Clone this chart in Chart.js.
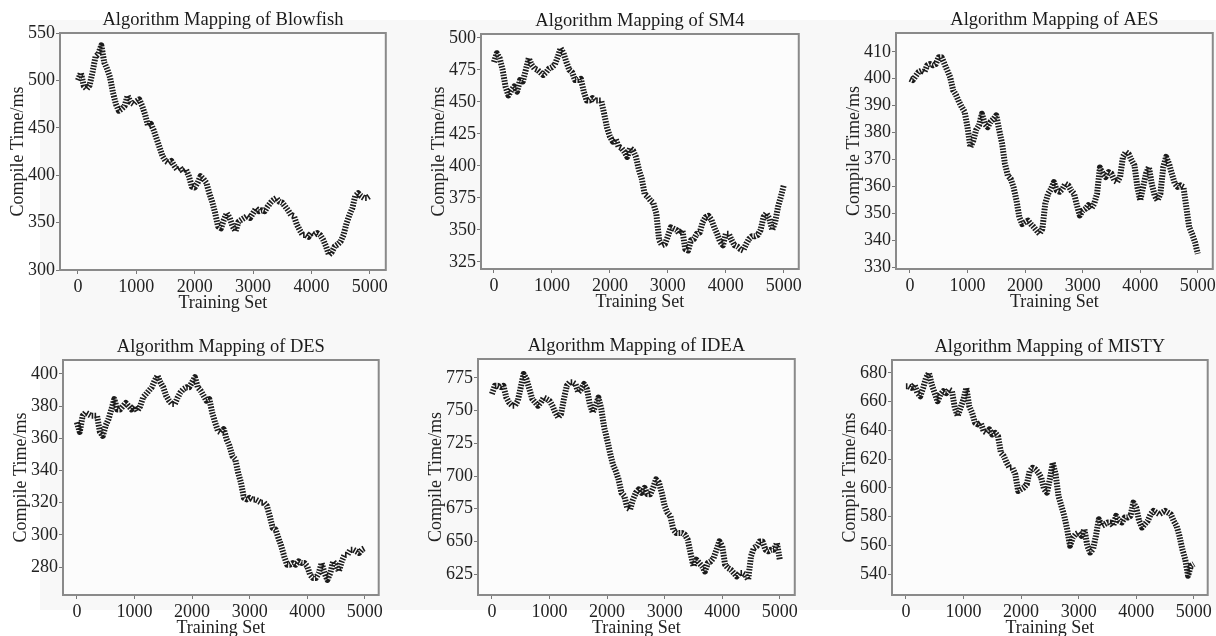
<!DOCTYPE html>
<html>
<head>
<meta charset="utf-8">
<script src="https://cdn.jsdelivr.net/npm/chart.js@4.4.0/dist/chart.umd.min.js"></script>
<style>
  body { margin: 0; background: #fff; width: 1216px; height: 636px; position: relative; overflow: hidden; }
  #bg { position: absolute; left: 40px; top: 20px; width: 1176px; height: 590px; background: #f8f8f8; }
  canvas { position: absolute; }
</style>
</head>
<body>
<div id="bg"></div>
<script>
// training set sizes (x) shared by all six panels
const trainingSet = [0,50,100,150,200,250,300,350,400,450,500,550,600,650,700,750,800,850,900,950,
  1000,1050,1100,1150,1200,1250,1300,1350,1400,1450,1500,1550,1600,1650,1700,1750,1800,1850,1900,1950,
  2000,2050,2100,2150,2200,2250,2300,2350,2400,2450,2500,2550,2600,2650,2700,2750,2800,2850,2900,2950,
  3000,3050,3100,3150,3200,3250,3300,3350,3400,3450,3500,3550,3600,3650,3700,3750,3800,3850,3900,3950,
  4000,4050,4100,4150,4200,4250,4300,4350,4400,4450,4500,4550,4600,4650,4700,4750,4800,4850,4900,4950,5000];

// compile time (ms)
const blowfish = [500,508,494,491,495,509,525,528,537,519, 512,503,487,475,468,470,473,484,477,475,
  478,480,473,464,452,454,447,438,429,420, 415,413,415,410,406,408,404,406,399,388,
  387,392,399,396,392,381,372,360,346,344, 353,360,355,346,341,351,353,355,357,355,
  360,365,362,363,362,367,371,374,376,372, 371,367,363,358,357,348,342,337,337,335,
  339,337,339,337,332,325,316,319,325,327, 330,337,349,358,365,378,381,378,376,376, 378];

const sm4 = [481,488,484,475,462,455,459,462,458,467, 466,475,484,479,476,475,473,471,473,476,
  477,479,485,492,488,481,475,473,467,467, 468,458,451,451,453,451,451,451,441,430,
  423,419,421,415,414,411,407,414,412,407, 397,390,378,376,373,371,363,342,338,339,
  345,352,351,350,347,350,335,334,342,343, 347,348,356,360,361,358,352,347,341,338,
  347,347,342,338,337,335,334,339,343,345, 345,346,350,360,363,359,350,356,368,376, 385];

const aes = [400,399.5,401,402.5,403,402.5,405,405.5,405,405.5, 408,408,405.5,403,400.5,395.7,394,391.5,389.5,387.7,
  382,374.6,377,381,382.7,387,383.3,382,384,385, 386.4,381,376,368.4,364,362.8,359.7,354.8,348.6,346,
  346.7,347.3,346,344.9,343.6,342.4,344.2,353.5,357.3,359, 361.6,358.5,358,359,361,360.4,358.5,357.3,353,349.2,
  351,351.7,353,351.7,353.5,357.3,367,364.7,363.5,365.3, 364.7,362.2,361.6,363.5,371,372.8,372,369.7,367.8,359.8,
  354.8,359.8,364.7,367.2,361,356.6,354.8,357.3,367.2,371, 368.4,364.7,361,359.8,360.4,359.8,352.3,344.9,342.4,339.3, 335];

const des = [370,364,374,376,375,374,374,374,364,361.5, 368,372,378,384.4,378,378,380,382,380,378,
  380,377,380,385.4,387.5,389.6,391.7,395.8,399,394.8, 391.7,386.5,383.4,381.3,381.3,385.4,388.6,390.6,391.7,391.7,
  394.8,398,391.7,389.6,386.5,383.4,384.4,376,369.8,364.6, 363.6,365.7,359.4,355.3,349,347,338.6,332.4,323,322,
  323,322,322,321,320,320,318,311.6,304.3,303.3, 298,292.9,286.6,281.4,281.4,282.5,281.4,283.5,282.5,282.5,
  280.4,275.2,273.1,273.1,276.2,282.5,276.2,272,276.2,283.5, 281.4,277.3,283.5,287.7,287.7,290.8,290.8,289.8,288.7,290.8, 291.8];

const idea = [762.7,769,769,768,769,760,756,753.8,753.8,757.6, 767.8,778,774.2,766.6,758.9,756.3,753.8,756.3,760,758.9,
  757.6,753.8,748.6,744.8,747.4,758.9,769,771.7,771.7,770.4, 764,766.6,770.4,766.6,755,748.6,753.8,760,751.2,737,
  728,718,709,703.8,697.4,687.2,684.6,675.7,674.4,682, 687.2,689.8,687.2,691,686,686,691,697.4,695,687.2,
  677,671.9,669.3,659,656.5,656.5,656.5,655.2,651.4,641.1, 631,636,633.5,631,627,633.5,634.7,637.3,643.7,650,
  646.3,632.2,629.6,628.3,625.8,623.2,625.8,625.8,624.5,620.7, 638.6,645,646.3,650,650,643.7,642.4,643.7,643.7,648.8, 636];

const misty = [670.7,670.7,669.6,671.9,666,663.8,669.6,676.5,680,671.9, 666,660.3,665,667.3,666,668.4,667.3,655.7,650,655.7,
  661.5,669.6,656.9,652.2,645.3,644.1,645.3,639.5,638.3,640.7, 637.2,638.3,636,624.5,622.1,617.5,614,614,609.4,597.8,
  599,600.2,602.5,611.7,614,612.9,610.6,607.1,599,596.7, 606,617.5,609.4,594.4,587.4,580.5,571.2,559.7,565.4,567.8,
  568.9,566.6,571.2,559.7,555,557.3,566.6,578.2,573.5,574.7, 575.9,575.9,573.5,580.5,577,575.9,579.3,579.3,580.5,589.7,
  586.3,577,572.4,574.7,577,581.6,584,582.8,581.6,582.8, 584,582.8,581.6,577,573.5,566.6,557.3,550.4,538.8,545.8, 547];

// tick labels
const xTicks = [0, 1000, 2000, 3000, 4000, 5000];
const blowfishTicks = [300, 350, 400, 450, 500, 550];
const sm4Ticks = [325, 350, 375, 400, 425, 450, 475, 500];
const aesTicks = [330, 340, 350, 360, 370, 380, 390, 400, 410];
const desTicks = [280, 300, 320, 340, 360, 380, 400];
const ideaTicks = [625, 650, 675, 700, 725, 750, 775];
const mistyTicks = [540, 560, 580, 600, 620, 640, 660, 680];

const FONT = '"Liberation Serif", "Times New Roman", serif';

// plot box (left, top, right, bottom) and axis ranges for each panel
const panels = [
  { name: 'Blowfish', vals: blowfish, ticks: blowfishTicks, box: [60, 33, 386, 270], x: [-308, 5274], y: [300, 550] },
  { name: 'SM4', vals: sm4, ticks: sm4Ticks, box: [481, 34, 800, 269], x: [-223, 5258], y: [319.5, 503] },
  { name: 'AES', vals: aes, ticks: aesTicks, box: [896, 33, 1214, 269], x: [-242, 5260], y: [329.3, 417] },
  { name: 'DES', vals: des, ticks: desTicks, box: [63, 360, 381, 595], x: [-241, 5241], y: [262.6, 408.7] },
  { name: 'IDEA', vals: idea, ticks: ideaTicks, box: [478, 359, 796, 595], x: [-242, 5260], y: [609, 789.5] },
  { name: 'MISTY', vals: misty, ticks: mistyTicks, box: [892, 360, 1210, 595], x: [-241, 5241], y: [525.4, 689] }
];

// plot frame + title drawn centred over the plot box
const frame = {
  id: 'frame',
  beforeDraw(chart) {
    const a = chart.chartArea, ctx = chart.ctx;
    ctx.save();
    ctx.fillStyle = '#fcfcfc';
    ctx.fillRect(a.left, a.top, a.right - a.left, a.bottom - a.top);
    ctx.restore();
  },
  afterDraw(chart, args, opts) {
    const a = chart.chartArea, ctx = chart.ctx;
    ctx.save();
    ctx.strokeStyle = '#8a8a8a';
    ctx.lineWidth = 2;
    ctx.strokeRect(a.left, a.top, a.right - a.left, a.bottom - a.top);
    ctx.fillStyle = '#1a1a1a';
    ctx.font = '18.5px ' + FONT;
    ctx.textAlign = 'center';
    ctx.textBaseline = 'alphabetic';
    ctx.fillText(opts.text, (a.left + a.right) / 2, a.top - 8);
    ctx.restore();
  }
};

panels.forEach(function (p) {
  const [L, T, R, B] = p.box;
  const cv = document.createElement('canvas');
  cv.width = R - L + 66;
  cv.height = B - T + 82;
  cv.style.left = (L - 62) + 'px';
  cv.style.top = (T - 32) + 'px';
  document.body.appendChild(cv);

  const pts = trainingSet.map((x, i) => ({ x: x, y: p.vals[i] }));

  new Chart(cv, {
    type: 'line',
    data: {
      datasets: [{
        data: pts,
        borderColor: '#1c1c1c',
        borderWidth: 6,
        borderDash: [1.6, 1.3],
        borderJoinStyle: 'round',
        borderCapStyle: 'butt',
        pointRadius: 0,
        tension: 0
      }]
    },
    options: {
      responsive: false,
      animation: false,
      layout: { padding: { top: 32, right: 4, left: 0, bottom: 0 } },
      plugins: {
        legend: { display: false },
        tooltip: { enabled: false },
        frame: { text: 'Algorithm Mapping of ' + p.name }
      },
      scales: {
        x: {
          type: 'linear',
          min: p.x[0], max: p.x[1],
          afterFit(s) { s.height = 50; },
          afterBuildTicks(s) { s.ticks = xTicks.map(v => ({ value: v })); },
          border: { display: false },
          grid: { drawOnChartArea: false, drawTicks: true, tickLength: 4, color: '#777' },
          ticks: { color: '#222', padding: 2, maxRotation: 0, callback: v => String(v), font: { family: FONT, size: 18 } },
          title: { display: true, text: 'Training Set', color: '#222', padding: { top: 6, bottom: 6 }, font: { family: FONT, size: 18 } }
        },
        y: {
          min: p.y[0], max: p.y[1],
          afterFit(s) { s.width = 62; },
          afterBuildTicks(s) { s.ticks = p.ticks.map(v => ({ value: v })); },
          border: { display: false },
          grid: { drawOnChartArea: false, drawTicks: true, tickLength: 4, color: '#777' },
          ticks: { color: '#222', padding: 1, callback: v => String(v), font: { family: FONT, size: 18 } },
          title: { display: true, text: 'Compile Time/ms', color: '#222', padding: { top: 9, bottom: 9 }, font: { family: FONT, size: 18 } }
        }
      }
    },
    plugins: [frame]
  });
});
</script>
</body>
</html>
